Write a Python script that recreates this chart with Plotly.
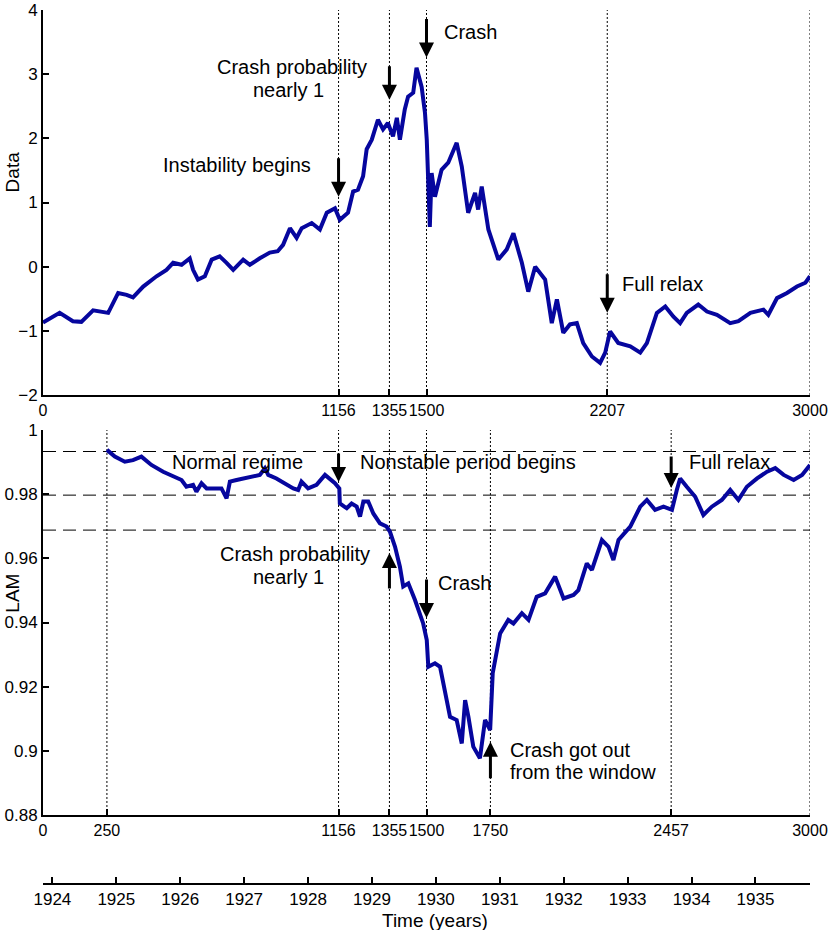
import plotly.graph_objects as go

# ---------------- data ----------------
top_days = [0, 65, 117, 150, 196, 236, 255, 294, 327, 352, 392, 444, 483, 509, 542, 574, 587, 606, 633, 660,
            691, 718, 744, 783, 809, 848, 887, 918, 939, 966, 992, 1012, 1051, 1083, 1110, 1142, 1161, 1193,
            1213, 1232, 1252, 1266, 1286, 1310, 1330, 1349, 1369, 1384, 1396, 1415, 1428, 1448, 1461, 1481,
            1494, 1501, 1506, 1513, 1520, 1533, 1559, 1585, 1618, 1638, 1663, 1690, 1702, 1716, 1742, 1781,
            1814, 1840, 1873, 1898, 1925, 1964, 1990, 2010, 2035, 2061, 2088, 2113, 2147, 2179, 2199, 2218,
            2250, 2297, 2336, 2362, 2401, 2434, 2466, 2492, 2518, 2563, 2597, 2636, 2688, 2720, 2767, 2818,
            2837, 2871, 2910, 2949, 2982, 3000]
top_values = [-0.87, -0.72, -0.85, -0.86, -0.68, -0.70, -0.72, -0.41, -0.44, -0.48, -0.31, -0.15, -0.05, 0.06,
              0.03, 0.13, -0.05, -0.20, -0.15, 0.11, 0.16, 0.06, -0.05, 0.11, 0.03, 0.13, 0.22, 0.24, 0.34,
              0.60, 0.45, 0.60, 0.68, 0.58, 0.84, 0.91, 0.73, 0.84, 1.17, 1.20, 1.41, 1.83, 1.98, 2.29, 2.14,
              2.24, 2.03, 2.32, 1.98, 2.45, 2.65, 2.71, 3.10, 2.80, 2.40, 1.98, 1.15, 0.62, 1.46, 1.09, 1.51,
              1.62, 1.93, 1.56, 0.84, 1.15, 0.89, 1.25, 0.58, 0.11, 0.27, 0.52, 0.06, -0.39, 0.00, -0.20,
              -0.88, -0.51, -1.03, -0.90, -0.88, -1.19, -1.40, -1.50, -1.34, -1.01, -1.19, -1.24, -1.34,
              -1.19, -0.72, -0.62, -0.78, -0.88, -0.72, -0.59, -0.70, -0.75, -0.88, -0.85, -0.72, -0.67,
              -0.75, -0.49, -0.41, -0.31, -0.25, -0.15]

lam_days = [250, 281, 320, 352, 385, 424, 470, 509, 542, 561, 587, 600, 620, 640, 665, 698, 718, 731, 757, 790,
            822, 848, 868, 881, 913, 946, 979, 998, 1011, 1037, 1070, 1103, 1122, 1142, 1159, 1161, 1188, 1207,
            1227, 1240, 1253, 1272, 1292, 1318, 1344, 1357, 1377, 1396, 1409, 1429, 1455, 1475, 1487, 1501,
            1507, 1533, 1553, 1579, 1592, 1618, 1638, 1651, 1664, 1683, 1709, 1729, 1749, 1759, 1775, 1788,
            1820, 1840, 1873, 1899, 1931, 1964, 2003, 2036, 2075, 2094, 2127, 2147, 2186, 2212, 2231, 2251,
            2297, 2336, 2362, 2394, 2427, 2460, 2479, 2492, 2518, 2551, 2583, 2616, 2655, 2688, 2720, 2753,
            2793, 2832, 2864, 2897, 2936, 2969, 3000]
lam_values = [0.9938, 0.9917, 0.9901, 0.9906, 0.9917, 0.9891, 0.9870, 0.9855, 0.9844, 0.9823, 0.9829, 0.9808,
              0.9834, 0.9818, 0.9818, 0.9818, 0.9787, 0.9839, 0.9844, 0.9849, 0.9855, 0.9860, 0.9881, 0.9860,
              0.9849, 0.9834, 0.9818, 0.9813, 0.9839, 0.9818, 0.9829, 0.9860, 0.9849, 0.9834, 0.9818, 0.9771,
              0.9756, 0.9771, 0.9761, 0.9730, 0.9777, 0.9777, 0.9740, 0.9709, 0.9699, 0.9683, 0.9636, 0.9574,
              0.9512, 0.9522, 0.9470, 0.9418, 0.9397, 0.9345, 0.9262, 0.9273, 0.9262, 0.9158, 0.9106, 0.9096,
              0.9023, 0.9158, 0.9106, 0.9013, 0.8977, 0.9096, 0.9065, 0.9242, 0.9304, 0.9366, 0.9408, 0.9397,
              0.9429, 0.9408, 0.9480, 0.9491, 0.9543, 0.9475, 0.9486, 0.9501, 0.9584, 0.9564, 0.9657, 0.9636,
              0.9595, 0.9657, 0.9699, 0.9761, 0.9782, 0.9751, 0.9761, 0.9751, 0.9813, 0.9849, 0.9823, 0.9792,
              0.9735, 0.9761, 0.9782, 0.9813, 0.9782, 0.9823, 0.9849, 0.9870, 0.9881, 0.9860, 0.9844, 0.9860,
              0.9891]

top_xticks = [0, 1156, 1355, 1500, 2207, 3000]
bottom_xticks = [0, 250, 1156, 1355, 1500, 1750, 2457, 3000]
top_vlines = [1156, 1355, 1500, 2207, 3000]
bottom_vlines = [250, 1156, 1355, 1500, 1750, 2457, 3000]
lam_levels = [0.9933, 0.9797, 0.9688]
top_yticks = [-2, -1, 0, 1, 2, 3, 4]
lam_yticks = [0.88, 0.90, 0.92, 0.94, 0.96, 0.98, 1.0]
lam_yticktext = ["0.88", "0.9", "0.92", "0.94", "0.96", "0.98", "1"]
years = list(range(1924, 1936))
year_range = [1923.853, 1935.853]

FONT = "Arial"
LINE_COLOR = "rgb(6,6,158)"

fig = go.Figure()
fig.add_trace(go.Scatter(x=top_days, y=top_values, mode="lines",
                         line=dict(color=LINE_COLOR, width=4), xaxis="x", yaxis="y", showlegend=False))
fig.add_trace(go.Scatter(x=lam_days, y=lam_values, mode="lines",
                         line=dict(color=LINE_COLOR, width=4), xaxis="x2", yaxis="y2", showlegend=False))
fig.add_trace(go.Scatter(x=[], y=[], mode="lines", xaxis="x3", yaxis="y3", showlegend=False))

axis_common = dict(showline=True, linecolor="black", linewidth=2, ticks="inside", ticklen=6,
                   tickwidth=1.5, tickcolor="black", showgrid=False, zeroline=False, automargin=False,
                   tickangle=0, mirror=False)
yfont = dict(tickfont=dict(family=FONT, size=17, color="black"))
xfont = dict(tickfont=dict(family=FONT, size=16, color="black"))

dom_top = [0.559, 1.0]
dom_bot = [0.0779, 0.5189]

fig.update_layout(
    template="none",
    width=831, height=930,
    font=dict(family=FONT, color="black"),
    margin=dict(l=43.3, r=21.3, t=10, b=47, autoexpand=False),
    paper_bgcolor="white", plot_bgcolor="white",
    showlegend=False,
    xaxis=dict(domain=[0, 1], range=[0, 3000], tickvals=top_xticks, anchor="y", **axis_common, **xfont),
    yaxis=dict(domain=dom_top, range=[-2, 4], tickvals=top_yticks, anchor="x", **axis_common, **yfont),
    xaxis2=dict(domain=[0, 1], range=[0, 3000], tickvals=bottom_xticks, anchor="y2", **axis_common, **xfont),
    yaxis2=dict(domain=dom_bot, range=[0.88, 1.0], tickvals=lam_yticks, ticktext=lam_yticktext,
                anchor="x2", **axis_common, **yfont),
    xaxis3=dict(domain=[0, 1], range=year_range,
                tickvals=[year_range[0]] + years + [year_range[1]],
                ticktext=[""] + [str(y) for y in years] + [""],
                anchor="y3", **axis_common, **yfont),
    yaxis3=dict(domain=[0, 0.001], range=[0, 1], visible=False, anchor="x3"),
)

shapes = []
for d in top_vlines:
    shapes.append(dict(type="line", xref="x", yref="y domain", x0=d, x1=d, y0=0, y1=1,
                       line=dict(color="black", width=1, dash="2px,2px"), layer="below"))
for d in bottom_vlines:
    shapes.append(dict(type="line", xref="x2", yref="y2 domain", x0=d, x1=d, y0=0, y1=1,
                       line=dict(color="black", width=1, dash="2px,2px"), layer="below"))
for v in lam_levels:
    shapes.append(dict(type="line", xref="x2 domain", yref="y2", x0=0, x1=1, y0=v, y1=v,
                       line=dict(color="black", width=1, dash="13px,7px"), layer="below"))
fig.update_layout(shapes=shapes)

ann = []


def txt(text, x, y, xref, yref, xanchor="center", size=20, angle=0):
    ann.append(dict(text=text, x=x, y=y, xref=xref, yref=yref, xanchor=xanchor, yanchor="middle",
                    showarrow=False, textangle=angle, font=dict(family=FONT, size=size, color="black")))


def arrow(x, y, ay, xref, yref):
    ann.append(dict(text="", x=x, y=y, xref=xref, yref=yref, ax=0, ay=ay, showarrow=True,
                    arrowhead=2, arrowsize=1.0, arrowwidth=3, arrowcolor="black", standoff=0))


# top panel
txt("Instability begins", 760, 1.58, "x", "y")
txt("Crash probability", 973, 3.115, "x", "y")
txt("nearly 1", 962, 2.757, "x", "y")
txt("Crash", 1561, 3.66, "x", "y", xanchor="left")
txt("Full relax", 2255, -0.265, "x", "y", xanchor="left")
arrow(1156, 1.09, -40, "x", "y")
arrow(1355, 2.60, -35, "x", "y")
arrow(1500, 3.26, -40, "x", "y")
arrow(2207, -0.72, -40, "x", "y")

# bottom panel
txt("Normal regime", 760, 0.9901, "x2", "y2")
txt("Nonstable period begins", 1232, 0.9900, "x2", "y2", xanchor="left")
txt("Crash probability", 985, 0.96135, "x2", "y2")
txt("nearly 1", 962, 0.95418, "x2", "y2")
txt("Crash", 1537, 0.9524, "x2", "y2", xanchor="left")
txt("Crash got out", 1819, 0.90026, "x2", "y2", xanchor="left")
txt("from the window", 1819, 0.8935, "x2", "y2", xanchor="left")
txt("Full relax", 2518, 0.9900, "x2", "y2", xanchor="left")
arrow(1156, 0.9838, -30, "x2", "y2")
arrow(1355, 0.9617, 37, "x2", "y2")
arrow(1500, 0.9414, -40, "x2", "y2")
arrow(1750, 0.9028, 38, "x2", "y2")
arrow(2457, 0.9819, -33, "x2", "y2")

# axis titles
txt("Data", -0.0395, 1.48, "paper", "y", size=19, angle=-90)
txt("LAM", -0.0395, 0.9492, "paper", "y2", size=19, angle=-90)
txt("Time (days)", 1535, 0.8686, "x2", "y2", size=19)
txt("Time (years)", 0.5115, -0.0425, "paper", "paper", size=19)

fig.update_layout(annotations=ann)
fig.write_html("out.html", config={"displayModeBar": False},
               post_script="document.body.style.margin='0px';document.body.style.padding='0px';")
